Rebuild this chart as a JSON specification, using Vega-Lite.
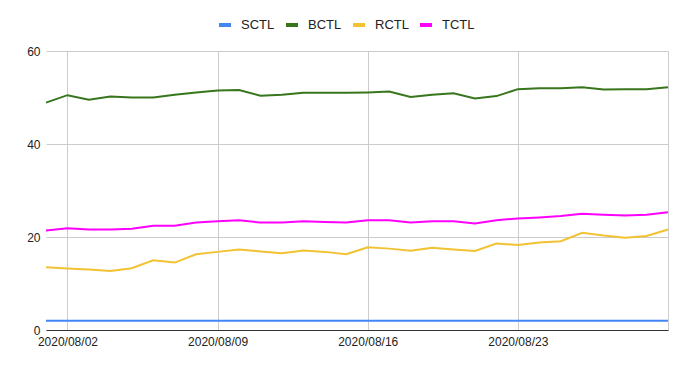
{
  "$schema": "https://vega.github.io/schema/vega-lite/v6.json",
  "autosize": "none",
  "width": 622,
  "height": 279,
  "padding": {"left": 46, "top": 51, "right": 18, "bottom": 39},
  "background": "white",
  "config": {
    "view": {"stroke": null},
    "font": "Liberation Sans"
  },
  "data": {
    "values": [
      {"date": "2020/08/01", "SCTL": 2, "BCTL": 48.9, "RCTL": 13.5, "TCTL": 21.4},
      {"date": "2020/08/02", "SCTL": 2, "BCTL": 50.5, "RCTL": 13.25, "TCTL": 21.9},
      {"date": "2020/08/03", "SCTL": 2, "BCTL": 49.5, "RCTL": 13.0, "TCTL": 21.6},
      {"date": "2020/08/04", "SCTL": 2, "BCTL": 50.2, "RCTL": 12.7, "TCTL": 21.6},
      {"date": "2020/08/05", "SCTL": 2, "BCTL": 50.0, "RCTL": 13.3, "TCTL": 21.8},
      {"date": "2020/08/06", "SCTL": 2, "BCTL": 50.0, "RCTL": 15.0, "TCTL": 22.4},
      {"date": "2020/08/07", "SCTL": 2, "BCTL": 50.6, "RCTL": 14.5, "TCTL": 22.4},
      {"date": "2020/08/08", "SCTL": 2, "BCTL": 51.1, "RCTL": 16.3, "TCTL": 23.1},
      {"date": "2020/08/09", "SCTL": 2, "BCTL": 51.5, "RCTL": 16.8, "TCTL": 23.4},
      {"date": "2020/08/10", "SCTL": 2, "BCTL": 51.6, "RCTL": 17.3, "TCTL": 23.6},
      {"date": "2020/08/11", "SCTL": 2, "BCTL": 50.4, "RCTL": 16.9, "TCTL": 23.1},
      {"date": "2020/08/12", "SCTL": 2, "BCTL": 50.6, "RCTL": 16.5, "TCTL": 23.1},
      {"date": "2020/08/13", "SCTL": 2, "BCTL": 51.0, "RCTL": 17.1, "TCTL": 23.4},
      {"date": "2020/08/14", "SCTL": 2, "BCTL": 51.0, "RCTL": 16.8, "TCTL": 23.2},
      {"date": "2020/08/15", "SCTL": 2, "BCTL": 51.0, "RCTL": 16.3, "TCTL": 23.1},
      {"date": "2020/08/16", "SCTL": 2, "BCTL": 51.1, "RCTL": 17.8, "TCTL": 23.6},
      {"date": "2020/08/17", "SCTL": 2, "BCTL": 51.3, "RCTL": 17.5, "TCTL": 23.6},
      {"date": "2020/08/18", "SCTL": 2, "BCTL": 50.1, "RCTL": 17.05, "TCTL": 23.1},
      {"date": "2020/08/19", "SCTL": 2, "BCTL": 50.6, "RCTL": 17.7, "TCTL": 23.4},
      {"date": "2020/08/20", "SCTL": 2, "BCTL": 50.9, "RCTL": 17.3, "TCTL": 23.4},
      {"date": "2020/08/21", "SCTL": 2, "BCTL": 49.8, "RCTL": 17.0, "TCTL": 22.9},
      {"date": "2020/08/22", "SCTL": 2, "BCTL": 50.3, "RCTL": 18.6, "TCTL": 23.6},
      {"date": "2020/08/23", "SCTL": 2, "BCTL": 51.8, "RCTL": 18.3, "TCTL": 24.0},
      {"date": "2020/08/24", "SCTL": 2, "BCTL": 52.0, "RCTL": 18.8, "TCTL": 24.2},
      {"date": "2020/08/25", "SCTL": 2, "BCTL": 52.0, "RCTL": 19.1, "TCTL": 24.5},
      {"date": "2020/08/26", "SCTL": 2, "BCTL": 52.2, "RCTL": 20.9, "TCTL": 25.0},
      {"date": "2020/08/27", "SCTL": 2, "BCTL": 51.7, "RCTL": 20.3, "TCTL": 24.8},
      {"date": "2020/08/28", "SCTL": 2, "BCTL": 51.8, "RCTL": 19.85, "TCTL": 24.6},
      {"date": "2020/08/29", "SCTL": 2, "BCTL": 51.8, "RCTL": 20.2, "TCTL": 24.8},
      {"date": "2020/08/30", "SCTL": 2, "BCTL": 52.2, "RCTL": 21.6, "TCTL": 25.3}
    ]
  },
  "transform": [
    {"fold": ["SCTL", "BCTL", "RCTL", "TCTL"], "as": ["series", "value"]}
  ],
  "mark": {"type": "line", "strokeWidth": 2, "interpolate": "linear"},
  "encoding": {
    "x": {
      "field": "date",
      "type": "temporal",
      "scale": {
        "domain": [{"year": 2020, "month": 8, "date": 1}, {"year": 2020, "month": 8, "date": 30}],
        "nice": false
      },
      "axis": {
        "title": null,
        "values": [
          {"year": 2020, "month": 8, "date": 2},
          {"year": 2020, "month": 8, "date": 9},
          {"year": 2020, "month": 8, "date": 16},
          {"year": 2020, "month": 8, "date": 23},
          {"year": 2020, "month": 8, "date": 30}
        ],
        "labelExpr": "date(datum.value) == 30 ? '' : timeFormat(datum.value, '%Y/%m/%d')",
        "labelOverlap": false,
        "labelFontSize": 12,
        "labelColor": "#222222",
        "labelPadding": 6,
        "labelFont": "Liberation Sans",
        "ticks": false,
        "grid": true,
        "gridColor": "#cccccc",
        "gridWidth": 1,
        "domainColor": "#333333",
        "domainWidth": 1
      }
    },
    "y": {
      "field": "value",
      "type": "quantitative",
      "scale": {"domain": [0, 60], "nice": false},
      "axis": {
        "title": null,
        "values": [0, 20, 40, 60],
        "labelFontSize": 12,
        "labelColor": "#222222",
        "labelPadding": 6,
        "labelFont": "Liberation Sans",
        "ticks": false,
        "domain": false,
        "grid": true,
        "gridColor": "#cccccc",
        "gridWidth": 1
      }
    },
    "color": {
      "field": "series",
      "type": "nominal",
      "scale": {
        "domain": ["SCTL", "BCTL", "RCTL", "TCTL"],
        "range": ["#4285f4", "#38761d", "#f1c232", "#ff00ff"]
      },
      "legend": {
        "title": null,
        "orient": "none",
        "direction": "horizontal",
        "legendX": 171,
        "legendY": -34,
        "symbolType": "stroke",
        "symbolSize": 144,
        "symbolStrokeWidth": 4,
        "labelFontSize": 13,
        "labelColor": "#222222",
        "labelFont": "Liberation Sans",
        "labelOffset": 8,
        "columnPadding": 3
      }
    }
  }
}
